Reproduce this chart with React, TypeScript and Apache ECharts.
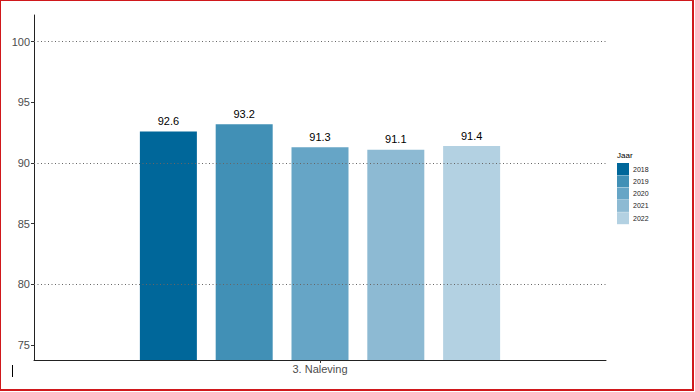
import React, { useEffect, useRef } from "react";
import * as echarts from "echarts";

const categories = ["3. Naleving"];
const years = ["2018", "2019", "2020", "2021", "2022"];
const values = [92.6, 93.2, 91.3, 91.1, 91.4];
const colors = ["#00679A", "#4190B6", "#66A5C6", "#8DBAD3", "#B3D1E2"];
const yTicks = [75, 80, 85, 90, 95, 100];
const gridLines = [80, 90, 100];

export default function App() {
  const ref = useRef<HTMLDivElement>(null);
  useEffect(() => {
    document.body.style.margin = "0";
    const chart = echarts.init(ref.current!, null, { renderer: "svg" });
    const font = "Liberation Sans, Arial, sans-serif";
    const barSeries = years.map((y, i) => ({
      name: y,
      type: "bar",
      data: [values[i]],
      barWidth: 57,
      barGap: "33%",
      z: 3,
      itemStyle: { color: colors[i] },
      label: {
        show: true,
        position: "top",
        distance: 5,
        fontSize: 11,
        fontFamily: font,
        color: "#000",
        formatter: (p: any) => Number(p.value).toFixed(1),
      },
    }));
    chart.setOption({
      animation: false,
      textStyle: { fontFamily: font },
      title: {
        text: "Jaar",
        left: 612,
        top: 146,
        textStyle: { fontSize: 8, fontWeight: "normal", color: "#000", fontFamily: font },
      },
      legend: {
        data: years,
        orient: "vertical",
        left: 612,
        top: 158,
        itemWidth: 12,
        itemHeight: 12,
        itemGap: 0.3,
        icon: "rect",
        textStyle: { fontSize: 7, color: "#222", fontFamily: font, padding: [0, 0, 0, -1] },
        selectedMode: false,
      },
      grid: { left: 34, right: 89, top: 15, bottom: 32, containLabel: false },
      xAxis: {
        type: "category",
        data: categories,
        axisLine: { show: true, lineStyle: { color: "#222", width: 1 } },
        axisTick: { show: true, alignWithLabel: true, length: 3, lineStyle: { color: "#333" } },
        axisLabel: { fontSize: 11, color: "#4D4D4D", margin: 3, fontFamily: font },
      },
      yAxis: {
        type: "value",
        min: 73.76,
        max: 102.2,
        splitLine: { show: false },
        axisLine: { show: true, lineStyle: { color: "#222", width: 1 } },
        axisTick: { show: true, length: 3, customValues: yTicks, lineStyle: { color: "#333" } },
        axisLabel: { fontSize: 11, color: "#4D4D4D", margin: 4, customValues: yTicks, fontFamily: font },
      },
      series: [
        {
          name: "grid",
          type: "line",
          data: [],
          z: 1,
          silent: true,
          markLine: {
            silent: true,
            symbol: "none",
            label: { show: false },
            lineStyle: { color: "#666", type: [1, 2.5], width: 1 },
            data: gridLines.map((v) => ({ yAxis: v })),
          },
        },
        ...barSeries,
      ],
      graphic: [
        { type: "line", shape: { x1: 12.5, y1: 365, x2: 12.5, y2: 377 }, style: { stroke: "#000", lineWidth: 1 } },
      ],
    });
    return () => chart.dispose();
  }, []);
  return (
    <div style={{ position: "relative", width: 695, height: 392 }}>
      <div ref={ref} style={{ position: "absolute", left: 0, top: 0, width: 695, height: 392 }} />
      <div
        style={{
          position: "absolute",
          left: 0,
          top: 0,
          width: 694,
          height: 391,
          boxSizing: "border-box",
          border: "1px solid #D0181C",
          borderRightWidth: 2,
          borderBottomWidth: 2,
          pointerEvents: "none",
        }}
      />
    </div>
  );
}
